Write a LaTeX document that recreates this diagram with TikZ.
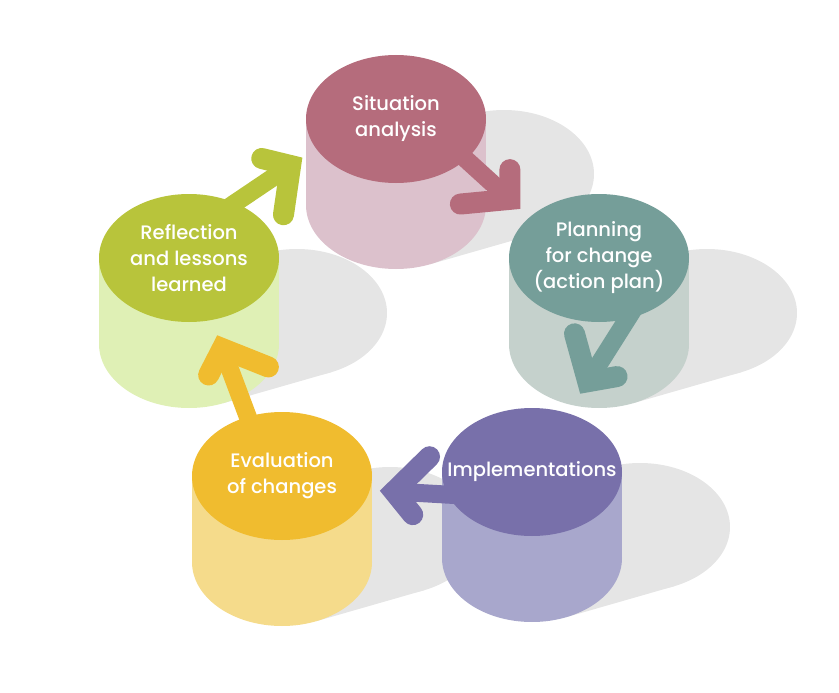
\documentclass[tikz,border=0pt]{standalone}
\usepackage{fontspec}
\setmainfont{Poppins}
\newfontfamily\capfont{Poppins Medium}
\usetikzlibrary{calc, shapes.geometric, decorations.markings}

\definecolor{sitTop}{HTML}{B56C7C}
\definecolor{sitSide}{HTML}{DCC1CC}
\definecolor{planTop}{HTML}{759E99}
\definecolor{planSide}{HTML}{C5D1CC}
\definecolor{implTop}{HTML}{7870AA}
\definecolor{implSide}{HTML}{A8A7CC}
\definecolor{evalTop}{HTML}{F0BC2F}
\definecolor{evalSide}{HTML}{F5DB8B}
\definecolor{reflTop}{HTML}{B8C43B}
\definecolor{reflSide}{HTML}{DFF0B5}
\definecolor{castgray}{HTML}{E5E5E5}

\pgfdeclarelayer{shadow}
\pgfdeclarelayer{side}
\pgfdeclarelayer{arrow}
\pgfsetlayers{shadow,side,arrow,main}

\tikzstyle{top} = [ellipse, minimum width=180pt, minimum height=128pt, inner sep=0pt]
\tikzstyle{caption} = [text=white, align=center, font=\capfont\fontsize{19.5}{26}\selectfont]
\tikzset{cyclearrow/.style={draw=#1, line width=18pt, shorten <=-20pt,
    postaction={decorate}, decoration={markings,
      mark=at position 1 with {\draw[#1, line width=21pt, line cap=round, line join=miter]
        (-12,22) -- (8,0) -- (-12,-22);}}}}

\begin{document}
\begin{tikzpicture}[x=1pt, y=-1pt]
  \useasboundingbox (0,0) rectangle (839,693);
  % cylinder tops
  \node [top, fill=sitTop, label={[caption]center:Situation\\analysis}] (sit) at (396,119) {};
  \node [top, fill=planTop, label={[caption]center:Planning\\for change\\(action plan)}] (plan) at (599,258) {};
  \node [top, fill=implTop, label={[caption]center:Implementations}] (impl) at (532,472) {};
  \node [top, fill=evalTop, label={[caption]center:Evaluation\\of changes}] (eval) at (282,476) {};
  \node [top, fill=reflTop, label={[caption]center:Reflection\\and lessons\\learned}] (refl) at (189,258) {};
  % where the arrow heads sit
  \coordinate (h1) at (504,194);
  \coordinate (h2) at (592,375);
  \coordinate (h3) at (402,492);
  \coordinate (h4) at (225,356);
  \coordinate (h5) at (284,170);
  % shadows on the floor
  \begin{pgfonlayer}{shadow}
    \foreach \n in {sit,plan,impl,eval,refl} {
      \fill [castgray] ($(\n)+(108,55)$) ellipse [x radius=90, y radius=64];
      \fill [castgray] ($(\n)+(34.3,145.2)$) -- ($(\n)+(142.3,114.2)$)
        -- ($(\n)+(73.7,-4.2)$) -- ($(\n)+(-34.3,26.8)$) -- cycle;
    }
  \end{pgfonlayer}
  % cylinder bodies
  \begin{pgfonlayer}{side}
    \foreach \n/\c in {sit/sitSide, plan/planSide, impl/implSide, eval/evalSide, refl/reflSide} {
      \fill [\c] (\n.west) rectangle ($(\n.east)+(0,86)$);
      \fill [\c] ($(\n)+(0,86)$) ellipse [x radius=90, y radius=64];
    }
  \end{pgfonlayer}
  % arrows
  \begin{pgfonlayer}{arrow}
    \path [cyclearrow=sitTop] (sit.-30) -- (h1);
    \path [cyclearrow=planTop] (plan.-65) -- (h2);
    \path [cyclearrow=implTop] (impl.195) -- (h3);
    \path [cyclearrow=evalTop] (eval.120) -- (h4);
    \path [cyclearrow=reflTop] (refl.50) -- (h5);
  \end{pgfonlayer}
\end{tikzpicture}
\end{document}
